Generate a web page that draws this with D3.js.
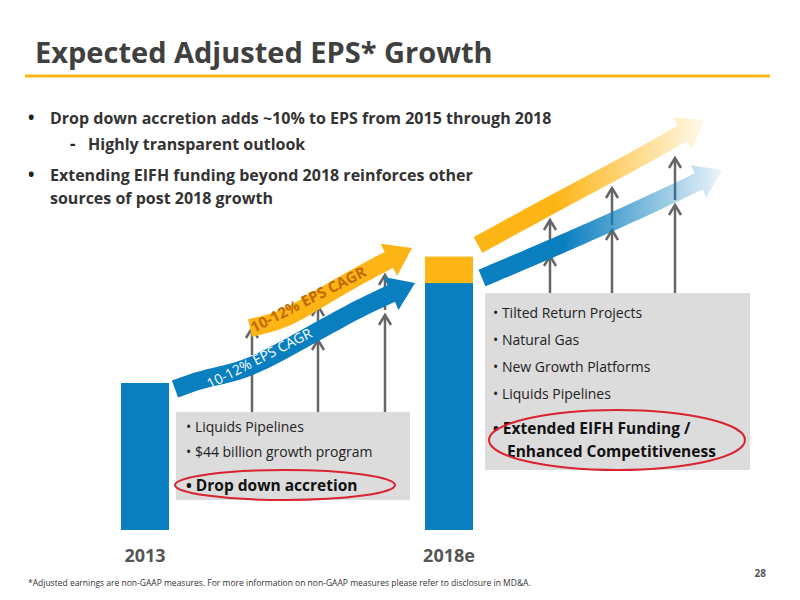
<!DOCTYPE html>
<html><head><meta charset="utf-8">
<script src="https://cdn.jsdelivr.net/npm/d3@7"></script>
<style>body{margin:0;background:#fff}text{font-family:"Open Sans",sans-serif}</style>
</head><body><svg id="c" width="800" height="600"></svg>
<script>
var years = ["2013", "2018e"];
var baseEps = [1.0, 1.68];
var dropDown = [0, 0.18];
var leftItems = ["Liquids Pipelines", "$44 billion growth program"];
var rightItems = ["Tilted Return Projects", "Natural Gas", "New Growth Platforms", "Liquids Pipelines"];

var BLUE = "#0a7fbf", ORANGE = "#fdb515", GREY = "#666";
var svg = d3.select("#c");

var x = d3.scalePoint().domain(years).range([145, 449]);
var y = d3.scaleLinear().domain([0, 2.245]).range([530, 200]);
var BW = 48;

// title
svg.append("text").attr("x", 35).attr("y", 63).attr("font-size", 29).attr("font-weight", "bold")
  .attr("fill", "#404040").text("Expected Adjusted EPS* Growth");
svg.append("line").attr("x1", 25).attr("x2", 770).attr("y1", 76).attr("y2", 76)
  .attr("stroke", ORANGE).attr("stroke-width", 3);

// bullets
var b = [["•", 28, 124, "Drop down accretion adds ~10% to EPS from 2015 through 2018"],
         ["-", 70, 150, "Highly transparent outlook"],
         ["•", 28, 181, "Extending EIFH funding beyond 2018 reinforces other"],
         ["", 28, 204, "sources of post 2018 growth"]];
b.forEach(function (d) {
  svg.append("text").attr("x", d[1]).attr("y", d[2]).attr("font-size", 17).attr("font-weight", "bold").attr("fill", "#222").text(d[0]);
  svg.append("text").attr("x", d[1] + (d[0] === "-" ? 18 : 22)).attr("y", d[2]).attr("font-size", 16).attr("font-weight", "bold").attr("fill", "#333").text(d[3]);
});

// gradients
var defs = svg.append("defs");
function grad(id, c) {
  var g = defs.append("linearGradient").attr("id", id).attr("x1", "0").attr("x2", "1");
  g.append("stop").attr("offset", "0").attr("stop-color", c);
  g.append("stop").attr("offset", "0.35").attr("stop-color", c);
  g.append("stop").attr("offset", "1").attr("stop-color", c).attr("stop-opacity", 0.08);
}
grad("go", ORANGE); grad("gb", BLUE);

// wide arrow along a smooth centre line
function wideArrow(pts, w, head, fill) {
  var guide = svg.append("path").attr("d", d3.line().curve(d3.curveBasis)(pts)).attr("fill", "none");
  var node = guide.node(), L = node.getTotalLength();
  var bodyLen = L - head, top = [], bot = [], N = 40;
  for (var i = 0; i <= N; i++) {
    var s = bodyLen * i / N;
    var p = node.getPointAtLength(s), q = node.getPointAtLength(Math.min(s + 1, L));
    var t = Math.atan2(q.y - p.y, q.x - p.x);
    top.push([p.x + Math.sin(t) * w / 2, p.y - Math.cos(t) * w / 2]);
    bot.push([p.x - Math.sin(t) * w / 2, p.y + Math.cos(t) * w / 2]);
  }
  var bp = node.getPointAtLength(bodyLen), e = node.getPointAtLength(L);
  var ang = Math.atan2(e.y - bp.y, e.x - bp.x), nx = -Math.sin(ang), ny = Math.cos(ang);
  guide.remove();
  var poly = top.concat([[bp.x - nx * w, bp.y - ny * w], [e.x, e.y], [bp.x + nx * w, bp.y + ny * w]], bot.reverse());
  svg.append("path").attr("d", "M" + poly.join("L") + "Z").attr("fill", fill);
}

// grey boxes
svg.append("rect").attr("x", 176).attr("y", 412).attr("width", 234).attr("height", 88).attr("fill", "#dcdcdc");
svg.append("rect").attr("x", 485).attr("y", 293).attr("width", 265).attr("height", 177).attr("fill", "#dcdcdc");

// grey up arrows
function upArrow(xx, y1, y2) {
  svg.append("line").attr("x1", xx).attr("x2", xx).attr("y1", y1).attr("y2", y2 + 2).attr("stroke", GREY).attr("stroke-width", 2.5);
  svg.append("path").attr("d", "M" + (xx - 6) + "," + (y2 + 10) + "L" + xx + "," + y2 + "L" + (xx + 6) + "," + (y2 + 10))
    .attr("fill", "none").attr("stroke", GREY).attr("stroke-width", 2.5);
}
[[252, 412, 361], [252, 355, 328], [318, 412, 340], [318, 335, 306], [385, 412, 315], [385, 310, 275],
 [550, 293, 256], [550, 250, 220], [612, 293, 230], [612, 225, 188], [675, 293, 205], [675, 200, 158]]
  .forEach(function (d) { upArrow(d[0], d[1], d[2]); });

// bars
var g = svg.append("g");
g.selectAll(".base").data(years).enter().append("rect")
  .attr("x", function (d) { return x(d) - BW / 2; }).attr("width", BW)
  .attr("y", function (d, i) { return y(baseEps[i]); })
  .attr("height", function (d, i) { return y(0) - y(baseEps[i]); }).attr("fill", BLUE);
g.selectAll(".dd").data(years).enter().append("rect")
  .attr("x", function (d) { return x(d) - BW / 2; }).attr("width", BW)
  .attr("y", function (d, i) { return y(baseEps[i] + dropDown[i]); })
  .attr("height", function (d, i) { return y(baseEps[i]) - y(baseEps[i] + dropDown[i]); }).attr("fill", ORANGE);

// growth arrows
wideArrow([[175, 389], [205, 378], [240, 372], [275, 355], [320, 330], [365, 305], [415, 283]], 18, 26, BLUE);
wideArrow([[250, 328], [285, 320], [320, 298], [365, 272], [412, 248]], 18, 26, ORANGE);
wideArrow([[478, 245], [560, 200], [640, 158], [705, 120]], 18, 26, "url(#go)");
wideArrow([[482, 278], [560, 245], [650, 205], [722, 170]], 18, 26, "url(#gb)");

svg.append("text").attr("transform", "translate(254,333) rotate(-27)").attr("font-size", 15).attr("font-weight", "bold")
  .attr("fill", "#c06a00").text("10-12% EPS CAGR");
svg.append("text").attr("transform", "translate(210,389) rotate(-27)").attr("font-size", 14)
  .attr("fill", "#ffffff").text("10-12% EPS CAGR");

// box texts
leftItems.forEach(function (t, i) {
  svg.append("text").attr("x", 186).attr("y", 432 + i * 25).attr("font-size", 14).attr("fill", "#222").text("•  " + t);
});
svg.append("text").attr("x", 186).attr("y", 491).attr("font-size", 15.5).attr("font-weight", "bold").attr("fill", "#111").text("•  Drop down accretion");
rightItems.forEach(function (t, i) {
  svg.append("text").attr("x", 493).attr("y", 318 + i * 27).attr("font-size", 14).attr("fill", "#222").text("• " + t);
});
svg.append("text").attr("x", 493).attr("y", 434).attr("font-size", 15.5).attr("font-weight", "bold").attr("fill", "#111").text("• Extended EIFH Funding /");
svg.append("text").attr("x", 507).attr("y", 457).attr("font-size", 15.5).attr("font-weight", "bold").attr("fill", "#111").text("Enhanced Competitiveness");

svg.append("ellipse").attr("cx", 285).attr("cy", 485).attr("rx", 110).attr("ry", 15).attr("fill", "none").attr("stroke", "#d9232e").attr("stroke-width", 2);
svg.append("ellipse").attr("cx", 617).attr("cy", 440).attr("rx", 128).attr("ry", 30).attr("fill", "none").attr("stroke", "#d9232e").attr("stroke-width", 2);

// axis labels
svg.selectAll(".yl").data(years).enter().append("text")
  .attr("x", function (d) { return x(d); }).attr("y", 562).attr("text-anchor", "middle")
  .attr("font-family", "'Liberation Sans', Arial, sans-serif").attr("font-size", 18).attr("font-weight", "bold")
  .attr("fill", "#555").text(function (d) { return d; });

svg.append("text").attr("x", 28).attr("y", 586).attr("font-family", "'Liberation Sans', Arial, sans-serif").attr("font-size", 8.5)
  .attr("fill", "#333").text("*Adjusted earnings are non-GAAP measures. For more information on non-GAAP measures please refer to disclosure in MD&A.");
svg.append("text").attr("x", 766).attr("y", 577).attr("text-anchor", "end").attr("font-family", "'Liberation Sans', Arial, sans-serif")
  .attr("font-size", 10).attr("font-weight", "bold").attr("fill", "#555").text("28");
</script></body></html>
